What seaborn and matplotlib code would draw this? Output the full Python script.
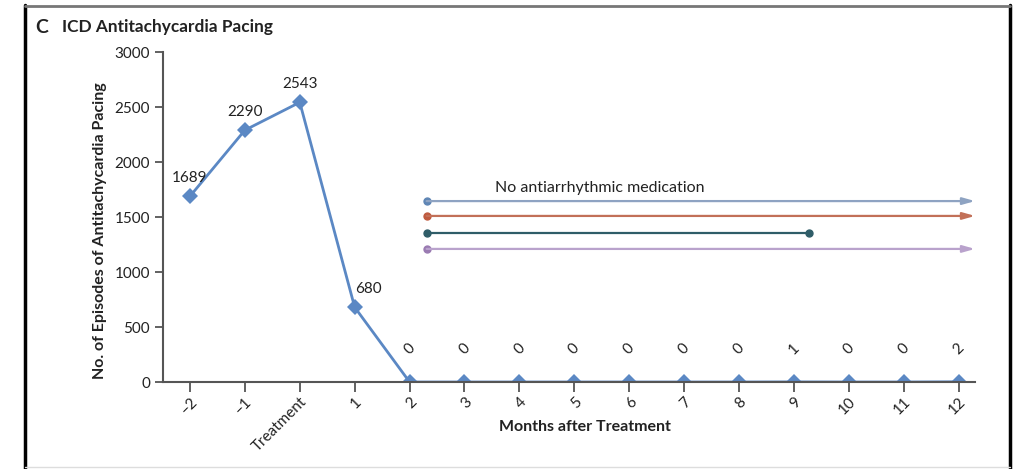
import numpy as np
import pandas as pd
import matplotlib.pyplot as plt
from matplotlib.lines import Line2D
import seaborn as sns

# ==================================================
# DATA
# ==================================================
periods = ["–2", "–1", "Treatment", "1", "2", "3", "4", "5", "6",
           "7", "8", "9", "10", "11", "12"]
episodes = [1689, 2290, 2543, 680, 0, 0, 0, 0, 0, 0, 0, 1, 0, 0, 2]

# medication rows (drawn as lines across the months)
med_y = [1645, 1510, 1355, 1210]
med_start = [4.31, 4.31, 4.31, 4.31]
med_end = [14.3, 14.3, 11.27, 14.3]
med_arrow = [True, True, False, True]
med_line_colors = ["#8ea3c2", "#c27058", "#2f5d68", "#b9a2cc"]
med_dot_colors = ["#5f86b5", "#bf5a3e", "#2f5d68", "#9a7bb2"]

df = pd.DataFrame({"pos": np.arange(len(periods)), "episodes": episodes})

# ==================================================
# STYLE
# ==================================================
sns.set_theme(style="ticks")
plt.rcParams["font.family"] = ["Lato", "DejaVu Sans"]

BLUE = "#5b88c4"
AXIS = "#555555"
INK = "#222222"

fig = plt.figure(figsize=(10.13, 4.69), dpi=100)
ax = fig.add_axes([0.161, 0.1855, 0.8015, 0.7035])

sns.lineplot(data=df, x="pos", y="episodes", ax=ax, color=BLUE,
             marker="D", markersize=8, markeredgewidth=0, linewidth=2)

# value labels
for i, v in enumerate(episodes):
    if v > 100:
        dx = 10 if i == 3 else 0
        ax.annotate(f"{v}", (i, v), xytext=(dx, 8), textcoords="offset points",
                    ha="center", va="bottom", fontsize=11, color=INK)
    else:
        ax.text(i, 300, f"{v}", ha="center", va="center", rotation=45,
                fontsize=11, color=INK)

# medication lines
for y, x0, x1, arr, lc, dc in zip(med_y, med_start, med_end, med_arrow,
                                  med_line_colors, med_dot_colors):
    if arr:
        ax.annotate("", xy=(x1, y), xytext=(x0, y),
                    arrowprops=dict(arrowstyle="-|>,head_length=0.6,head_width=0.17",
                                    color=lc, lw=1.6, shrinkA=0, shrinkB=0))
        ax.plot([x0], [y], "o", color=dc, markersize=5)
    else:
        ax.plot([x0, x1], [y, y], color=lc, lw=1.6)
        ax.plot([x0, x1], [y, y], "o", color=dc, markersize=5, lw=0)
ax.text(5.55, 1700, "No antiarrhythmic medication", ha="left", va="bottom",
        fontsize=11.5, color=INK)

# axes
ax.set_xlim(-0.49, 14.3)
ax.set_ylim(0, 3000)
ax.set_yticks([0, 500, 1000, 1500, 2000, 2500, 3000])
ax.set_xticks(np.arange(len(periods)))
ax.set_xticklabels(periods, rotation=45, ha="right", rotation_mode="anchor")
ax.tick_params(axis="both", labelsize=11, colors=INK, length=6,
               width=1.3, color=AXIS)
ax.tick_params(axis="x", pad=2, length=7)
ax.set_xlabel("Months after Treatment", fontsize=11.5, fontweight="bold",
              color=INK)
ax.xaxis.set_label_coords(0.52, -0.115)
ax.set_ylabel("No. of Episodes of Antitachycardia Pacing", fontsize=11.5,
              fontweight="bold", color=INK)
ax.yaxis.set_label_coords(-0.069, 0.46)
sns.despine(ax=ax)
for s in ["left", "bottom"]:
    ax.spines[s].set_color(AXIS)
    ax.spines[s].set_linewidth(1.5)

# panel title
fig.text(0.035, 0.93, "C", fontsize=14, fontweight="bold", color=INK)
fig.text(0.061, 0.932, "ICD Antitachycardia Pacing", fontsize=12.4,
         fontweight="bold", color=INK)

# panel frame
fig.add_artist(Line2D([0.0245, 0.0245], [0, 0.99], color="black", lw=2.5))
fig.add_artist(Line2D([0.997, 0.997], [0, 0.99], color="black", lw=2.5))
fig.add_artist(Line2D([0.0245, 0.997], [0.987, 0.987], color="#777777", lw=2))
fig.add_artist(Line2D([0.0245, 0.997], [0.004, 0.004], color="#dddddd", lw=1))

plt.savefig("out.png", dpi=100)
